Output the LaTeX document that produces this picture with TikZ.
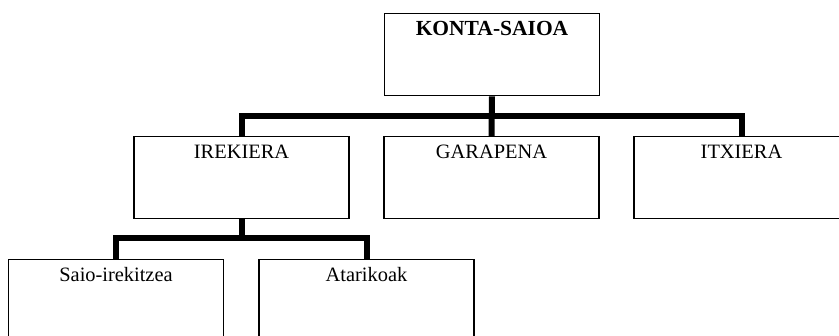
\documentclass[tikz,border=0pt]{standalone}
\usepackage{fontspec}
\setmainfont{Liberation Serif}
\usetikzlibrary{positioning}

\begin{document}
\begin{tikzpicture}[x=1pt,y=-1pt]
    \useasboundingbox (0,0) rectangle (839,336);
    \clip (0,0) rectangle (839,336);
    \begin{scope}[every node/.style={rectangle,draw,line width=1.4pt,anchor=north,
        inner sep=0pt,minimum width=215pt,text height=21.5pt,text depth=60.5pt,
        font=\fontsize{20.4}{24}\selectfont}]
    \node (konta) at (492,13) {\fontsize{21.5}{24}\selectfont\textbf{KONTA-SAIOA}};
    \node (irekiera) at (241.5,136) {IREKIERA};
    \node (garapena) at (491.5,136) {GARAPENA};
    \node (itxiera) at (741.5,136) {ITXIERA};
    \node (saio) at (116,259) {Saio-irekitzea};
    \node (atarikoak) at (366.5,259) {Atarikoak};
    \end{scope}
    \coordinate (bar1) at (491.5,116);
    \coordinate (bar2) at (241.5,238);
    \begin{scope}[line width=6pt]
    \draw (konta.south) -- (garapena.north);
    \draw (irekiera.north) |- (bar1) -| (itxiera.north);
    \draw (irekiera.south) -- (bar2);
    \draw (saio.north) |- (bar2) -| (atarikoak.north);
    \end{scope}
\end{tikzpicture}
\end{document}
